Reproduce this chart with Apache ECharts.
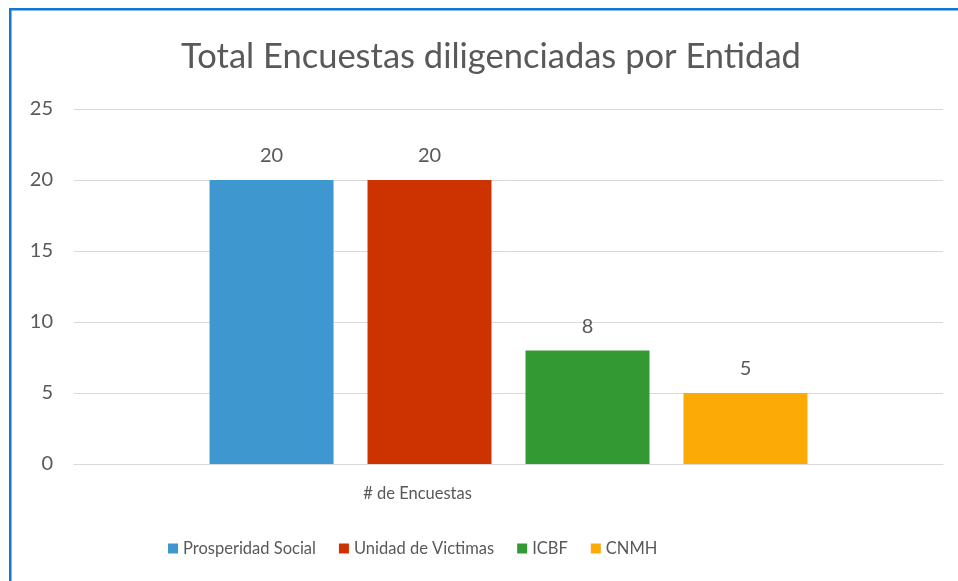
<!DOCTYPE html>
<html>
<head>
<meta charset="utf-8">
<script src="https://cdn.jsdelivr.net/npm/echarts@6/dist/echarts.min.js"></script>
<style>
html,body{margin:0;padding:0;background:#fff;}
#c{width:958px;height:581px;}
</style>
</head>
<body>
<div id="c"></div>
<script>
var titleText = 'Total Encuestas diligenciadas por Entidad';
var categories = ['# de Encuestas'];
var seriesNames = ['Prosperidad Social', 'Unidad de Victimas', 'ICBF', 'CNMH'];
var seriesValues = [[20], [20], [8], [5]];
var seriesColors = ['#3f97d0', '#cc3300', '#339933', '#fcaa05'];
var yMin = 0, yMax = 25, yInterval = 5;

var FONT = 'Lato';
var TXT = '#595959';

var series = seriesNames.map(function (n, i) {
  return {
    name: n,
    type: 'bar',
    data: seriesValues[i],
    barWidth: 124,
    barGap: '27.4%',
    itemStyle: { color: seriesColors[i] },
    label: {
      show: true, position: 'top', distance: 14,
      color: TXT, fontFamily: FONT, fontSize: 20
    }
  };
});

var chart = echarts.init(document.getElementById('c'), null, { renderer: 'canvas' });
chart.setOption({
  backgroundColor: '#ffffff',
  animation: false,
  title: {
    text: titleText,
    left: 486, top: 34,
    textAlign: 'center',
    textStyle: { color: TXT, fontFamily: FONT, fontSize: 34.5, fontWeight: 'normal' }
  },
  graphic: [
    { type: 'rect', shape: { x: 9, y: 8, width: 960, height: 2.5 }, style: { fill: '#1577d0' }, silent: true },
    { type: 'rect', shape: { x: 9, y: 8, width: 2.5, height: 580 }, style: { fill: '#1577d0' }, silent: true }
  ],
  legend: {
    data: seriesNames,
    left: 163, top: 535,
    icon: 'rect', itemWidth: 10, itemHeight: 10, itemGap: 23,
    textStyle: { color: TXT, fontFamily: FONT, fontSize: 16.5 }
  },
  grid: { left: 74, right: 15, top: 109, bottom: 117, containLabel: false },
  xAxis: {
    type: 'category',
    data: categories,
    axisLine: { show: true, lineStyle: { color: '#d9d9d9', width: 1 } },
    axisTick: { show: false },
    axisLabel: { color: TXT, fontFamily: FONT, fontSize: 16.5, margin: 21, padding: [0, 182, 0, 0] }
  },
  yAxis: {
    type: 'value',
    min: yMin, max: yMax, interval: yInterval,
    axisLine: { show: false },
    axisTick: { show: false },
    splitLine: { lineStyle: { color: '#d9d9d9', width: 1 } },
    axisLabel: { color: TXT, fontFamily: FONT, fontSize: 20, margin: 21 }
  },
  series: series
});
</script>
</body>
</html>
